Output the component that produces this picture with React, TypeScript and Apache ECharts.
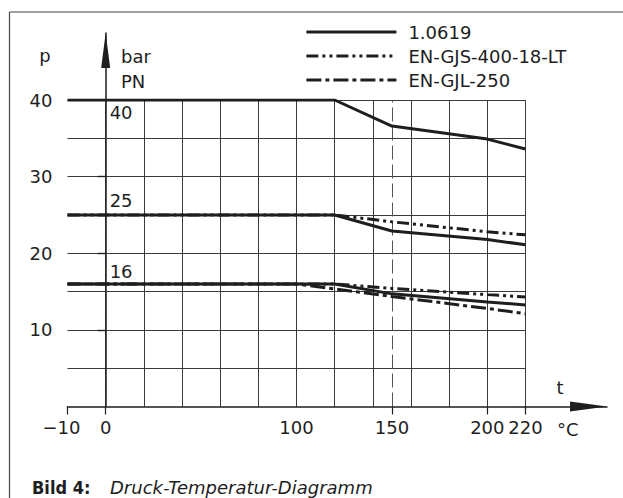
import React, { useEffect, useRef } from 'react';
import * as echarts from 'echarts';

// ---- data (temperature °C, pressure bar) ----
const materials = ['1.0619', 'EN-GJS-400-18-LT', 'EN-GJL-250'];

const t_1_0619 = [-10, 120, 150, 200, 220];
const p_1_0619_pn40 = [40, 40, 36.6, 34.9, 33.6];
const p_1_0619_pn25 = [25, 25, 22.9, 21.8, 21.1];
const p_1_0619_pn16 = [16, 16, 14.7, 13.65, 13.25];

const t_gjs = [-10, 120, 150, 200, 220];
const p_gjs_pn25 = [25, 25, 24.1, 22.8, 22.4];
const p_gjs_pn16 = [16, 16, 15.4, 14.6, 14.3];

const t_gjl = [-10, 100, 150, 200, 220];
const p_gjl_pn16 = [16, 16, 14.35, 12.8, 12.1];

const pnLevels = [40, 25, 16];
const xTickValues = [-10, 0, 150, 200, 220];
const xLabelValues = [-10, 0, 100, 150, 200, 220];
const yTickValues = [10, 20, 30];
const markerTemp = 150;

// the axis segment below 0 °C is drawn at double scale (−10 takes one full grid cell)
const tPos = (t: number) => (t < 0 ? 2 * t : t);
const tLabel = (v: number) => (v < 0 ? '−' + String(-v / 2) : String(v));

const FONT = '"DejaVu Sans", "Liberation Sans", sans-serif';
const INK = '#1e1e1e';

const X_MIN = -20;
const X_MAX = 220;
const Y_MAX = 40;
const G1 = { left: 67.5, top: 100, width: 458, height: 306.5 };
const G2 = { left: 67.5, top: 33, width: 539.5, height: 373.5 };
const x2Max = X_MIN + ((X_MAX - X_MIN) * G2.width) / G1.width;
const y2Max = (Y_MAX * G2.height) / G1.height;

const DASH_GJS = [12, 4, 3, 4, 3, 4];
const DASH_GJL = [15, 4, 4, 4];

function lineSeries(name: string, ts: number[], ps: number[], dash: any, z: number, extra: any = {}) {
  return {
    type: 'line',
    name,
    xAxisIndex: 0,
    yAxisIndex: 0,
    data: ts.map((t, i) => [tPos(t), ps[i]]),
    symbol: 'none',
    showSymbol: false,
    lineStyle: { color: INK, width: 3, type: dash },
    itemStyle: { color: INK },
    z,
    ...extra,
  };
}

export default function App() {
  const ref = useRef<HTMLDivElement>(null);
  useEffect(() => {
    if (!ref.current) return;
    const chart = echarts.init(ref.current, null, { renderer: 'svg' });
    const pnMark = (p: number) => ({
      coord: [tPos(0), p],
      value: String(p),
    });
    chart.setOption({
      animation: false,
      backgroundColor: '#ffffff',
      grid: [
        { ...G1, containLabel: false },
        { ...G2, containLabel: false },
      ],
      legend: {
        data: materials,
        orient: 'vertical',
        left: 300,
        top: 18,
        itemWidth: 90,
        itemHeight: 14,
        itemGap: 6,
        selectedMode: false,
        itemStyle: { color: 'rgba(0,0,0,0)', borderWidth: 0, opacity: 0 },
        lineStyle: { width: 2.8 },
        textStyle: { fontFamily: FONT, fontSize: 18, color: INK, padding: [0, 0, 0, 7], lineHeight: 18 },
      },
      xAxis: [
        {
          type: 'value',
          gridIndex: 0,
          min: X_MIN,
          max: X_MAX,
          interval: 20,
          axisLine: { show: false },
          axisTick: { show: false },
          axisLabel: { show: false },
          splitLine: { show: true, showMinLine: false, showMaxLine: true, lineStyle: { color: '#3a3a3a', width: 1 } },
        },
        {
          type: 'value',
          gridIndex: 1,
          min: X_MIN,
          max: x2Max,
          axisLine: {
            show: true,
            onZero: false,
            lineStyle: { color: INK, width: 1.5 },
            symbol: ['none', 'triangle'],
            symbolSize: [10, 37],
            symbolOffset: [0, -18.5],
          },
          axisTick: { show: true, customValues: xTickValues.map(tPos), length: 8, lineStyle: { color: INK, width: 1.2 } },
          axisLabel: {
            show: true,
            customValues: xLabelValues.map(tPos),
            margin: 12,
            fontFamily: FONT,
            fontSize: 18,
            color: INK,
            formatter: (v: number) => (v < 0 ? '{m|' + tLabel(v) + '}' : tLabel(v)),
            rich: { m: { fontFamily: FONT, fontSize: 18, color: INK, padding: [0, 12, 0, 0] } },
          },
          splitLine: { show: false },
        },
      ],
      yAxis: [
        {
          type: 'value',
          gridIndex: 0,
          min: 0,
          max: Y_MAX,
          interval: 5,
          axisLine: { show: true, lineStyle: { color: '#555', width: 1, type: [14, 5] } },
          axisTick: { show: false },
          axisLabel: {
            show: true,
            margin: 15,
            fontFamily: FONT,
            fontSize: 18,
            color: INK,
            formatter: (v: number) => (v > 0 && v % 10 === 0 ? String(v) : ''),
          },
          splitLine: { show: true, showMinLine: false, showMaxLine: true, lineStyle: { color: '#3a3a3a', width: 1 } },
        },
        {
          type: 'value',
          gridIndex: 1,
          min: 0,
          max: y2Max,
          axisLine: {
            show: true,
            onZero: true,
            lineStyle: { color: INK, width: 1.5 },
            symbol: ['none', 'triangle'],
            symbolSize: [9, 35],
            symbolOffset: [0, -17.5],
          },
          axisTick: { show: true, customValues: yTickValues, length: 8, lineStyle: { color: INK, width: 1.4 } },
          axisLabel: { show: false },
          splitLine: { show: false },
        },
      ],
      series: [
        lineSeries(materials[2], t_gjl, p_gjl_pn16, DASH_GJL, 3, {
          markLine: {
            silent: true,
            symbol: ['none', 'none'],
            label: { show: false },
            lineStyle: { color: '#555', width: 1, type: [14, 5] },
            data: [{ xAxis: tPos(markerTemp) }],
            z: 1,
          },
        }),
        lineSeries(materials[1], t_gjs, p_gjs_pn25, DASH_GJS, 4),
        lineSeries(materials[1], t_gjs, p_gjs_pn16, DASH_GJS, 4),
        lineSeries(materials[0], t_1_0619, p_1_0619_pn40, 'solid', 5, {
          markPoint: {
            silent: true,
            symbol: 'rect',
            symbolSize: 0,
            label: {
              show: true,
              position: 'inside',
              align: 'left',
              verticalAlign: 'middle',
              fontFamily: FONT,
              fontSize: 18,
              color: INK,
              formatter: (d: any) => d.value,
            },
            data: [
              { ...pnMark(pnLevels[0]), label: { offset: [4, 12] } },
              { ...pnMark(pnLevels[1]), label: { offset: [4, -14] } },
              { ...pnMark(pnLevels[2]), label: { offset: [4, -12] } },
            ],
          },
        }),
        lineSeries(materials[0], t_1_0619, p_1_0619_pn25, 'solid', 5),
        lineSeries(materials[0], t_1_0619, p_1_0619_pn16, 'solid', 5),
      ],
      graphic: [
        { type: 'line', shape: { x1: 9.5, y1: 12, x2: 623, y2: 12 }, style: { stroke: '#444', lineWidth: 1.2 } },
        { type: 'line', shape: { x1: 9.5, y1: 12, x2: 9.5, y2: 498 }, style: { stroke: '#444', lineWidth: 1.2 } },
        { type: 'text', x: 45, y: 55, style: { text: 'p', font: `18px ${FONT}`, fill: INK, align: 'center', verticalAlign: 'middle' } },
        { type: 'text', x: 121, y: 56, style: { text: 'bar', font: `18px ${FONT}`, fill: INK, align: 'left', verticalAlign: 'middle' } },
        { type: 'text', x: 121, y: 81, style: { text: 'PN', font: `18px ${FONT}`, fill: INK, align: 'left', verticalAlign: 'middle' } },
        { type: 'text', x: 560, y: 387, style: { text: 't', font: `18px ${FONT}`, fill: INK, align: 'center', verticalAlign: 'middle' } },
        { type: 'text', x: 557, y: 429, style: { text: '°C', font: `18px ${FONT}`, fill: INK, align: 'left', verticalAlign: 'middle' } },
        { type: 'text', x: 32, y: 487, style: { text: 'Bild 4:', font: `bold 18px "DejaVu Sans Condensed", ${FONT}`, fill: INK, align: 'left', verticalAlign: 'middle' } },
        { type: 'text', x: 110, y: 487, style: { text: 'Druck-Temperatur-Diagramm', font: `italic 18px ${FONT}`, fill: INK, align: 'left', verticalAlign: 'middle' } },
      ],
    });
    return () => chart.dispose();
  }, []);
  return <div ref={ref} style={{ width: 623, height: 498, position: 'absolute', left: 0, top: 0 }} />;
}
